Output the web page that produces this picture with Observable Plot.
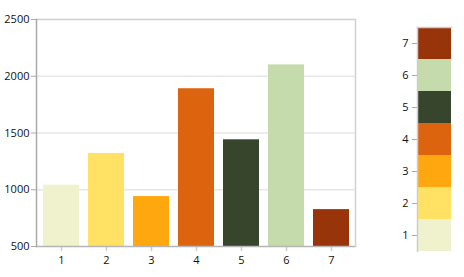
<!DOCTYPE html>
<html><head><meta charset="utf-8">
<script src="https://cdn.jsdelivr.net/npm/d3@7"></script>
<script src="https://cdn.jsdelivr.net/npm/@observablehq/plot@0.6"></script>
<style>
body{margin:0;background:#fff;}
#wrap{position:relative;width:464px;height:277px;overflow:hidden;font-family:"Open Sans",sans-serif;}
#main{position:absolute;left:0;top:0;}
#legend{position:absolute;left:360px;top:0;}
</style></head>
<body><div id="wrap"><div id="main"></div><div id="legend"></div></div>
<script>
const categories = ["1","2","3","4","5","6","7"];
const values = [1040, 1320, 940, 1890, 1440, 2100, 825];
const colors = ["#f0f2cd","#ffe264","#ffa70f","#dd640f","#36452c","#c5dbab","#973409"];
const yTicks = [500, 1000, 1500, 2000, 2500];

const data = categories.map((c,i)=>({cat:c, value:values[i], color:colors[i]}));

const main = Plot.plot({
  width: 370, height: 277,
  marginLeft: 36, marginRight: 15, marginTop: 19, marginBottom: 31,
  style: {fontFamily: "'Open Sans', sans-serif", fontSize: "11px", color: "#111"},
  x: {type: "band", domain: categories, paddingInner: 0.21, paddingOuter: 0.1, align: 0.5, label: null},
  y: {domain: [500, 2500], label: null},
  marks: [
    Plot.gridY(yTicks.slice(1,4), {stroke: "#e6e6e6", strokeOpacity: 1, strokeWidth: 1.5}),
    Plot.barY(data, {x: "cat", y1: 500, y2: "value", fill: "color"}),
    Plot.ruleY([2500], {stroke: "#d0d0d0", strokeWidth: 1.5}),
    Plot.axisY(yTicks, {tickSize: 5, stroke: "#aaa", tickPadding: 2, fill: "#111", tickFormat: "d"}),
    Plot.axisX({tickSize: 5, stroke: "#ccc", strokeWidth: 1.5, tickPadding: 5, fill: "#111"}),
    Plot.ruleY([500], {stroke: "#b5b5b5", strokeWidth: 1.5}),
    Plot.frame({anchor: "left", stroke: "#aaa", strokeWidth: 1.5}),
    Plot.frame({anchor: "right", stroke: "#d0d0d0", strokeWidth: 1.5})
  ]
});
document.getElementById("main").appendChild(main);

const legend = Plot.plot({
  width: 104, height: 277,
  marginLeft: 57, marginRight: 13, marginTop: 27, marginBottom: 26,
  style: {fontFamily: "'Open Sans', sans-serif", fontSize: "11px", color: "#111"},
  x: {axis: null, domain: ["a"], padding: 0},
  y: {type: "band", domain: categories.slice().reverse(), padding: 0, label: null},
  marks: [
    Plot.cell(data, {x: () => "a", y: "cat", fill: "color"}),
    Plot.axisY({tickSize: 5, stroke: "#aaa", tickPadding: 4, fill: "#111"}),
    Plot.frame({anchor: "left", stroke: "#ccc", strokeWidth: 1.5}),
    Plot.frame({anchor: "top", stroke: "#ccc", strokeWidth: 1.5})
  ]
});
document.getElementById("legend").appendChild(legend);
</script></body></html>
